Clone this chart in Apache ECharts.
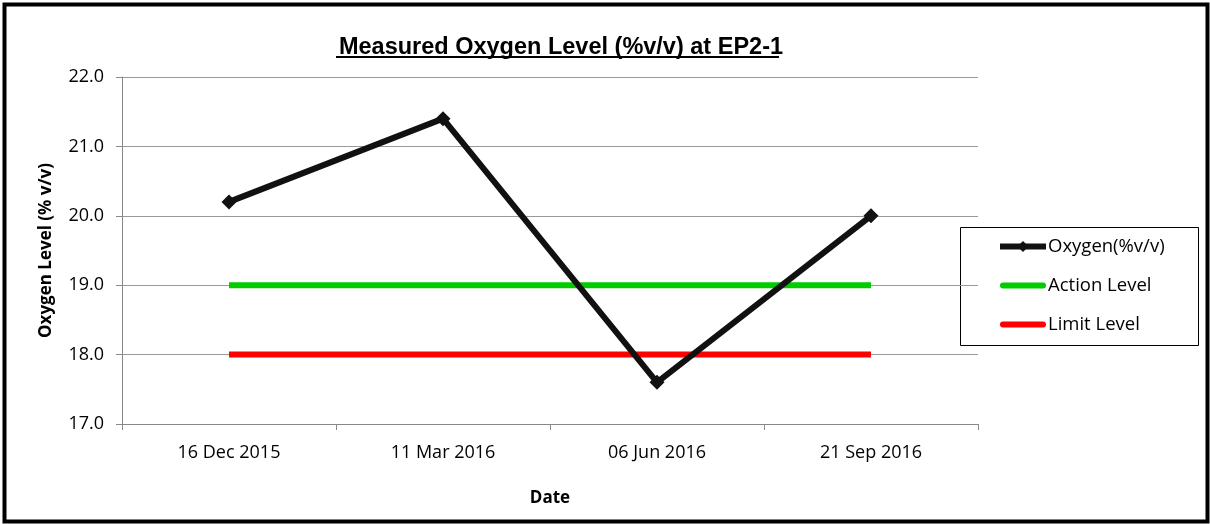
<!DOCTYPE html>
<html><head><meta charset="utf-8">
<script src="https://cdn.jsdelivr.net/npm/echarts@6/dist/echarts.min.js"></script>
<style>html,body{margin:0;padding:0;background:#fff}#c{width:1210px;height:524px}</style>
</head><body><div id="c"></div>
<script>
const categories = ['16 Dec 2015', '11 Mar 2016', '06 Jun 2016', '21 Sep 2016'];
const oxygen = [20.2, 21.4, 17.6, 20.0];
const actionLevel = [19, 19, 19, 19];
const limitLevel = [18, 18, 18, 18];
const seriesNames = ['Oxygen(%v/v)', 'Action Level', 'Limit Level'];
const yMin = 17, yMax = 22, yStep = 1;

const chart = echarts.init(document.getElementById('c'));
const font = 'Open Sans';
const barIcon = 'path://M3,0 L43,0 A3,3 0 0 1 43,6 L3,6 A3,3 0 0 1 3,0 Z';
chart.setOption({
  animation: false,
  backgroundColor: '#fff',
  title: {
    text: 'Measured Oxygen Level (%v/v) at EP2-1',
    left: 556, top: 31, textAlign: 'center',
    textStyle: {fontFamily: 'Liberation Sans', fontWeight: 'bold', fontSize: 23.5, color: '#000'}
  },
  grid: {left: 122, right: 232, top: 77, bottom: 100},
  legend: {
    orient: 'vertical', left: 992, top: 232,
    itemWidth: 46, itemHeight: 14, itemGap: 20,
    textStyle: {fontFamily: font, fontSize: 18.5, color: '#000', padding: [0, 0, 0, -3]},
    data: [
      {name: seriesNames[0], lineStyle: {width: 6}},
      {name: seriesNames[1], icon: barIcon},
      {name: seriesNames[2], icon: barIcon}
    ]
  },
  xAxis: {
    type: 'category', data: categories, boundaryGap: true,
    name: 'Date', nameLocation: 'middle', nameGap: 66,
    nameTextStyle: {fontFamily: font, fontWeight: 'bold', fontSize: 17, color: '#000'},
    axisLine: {lineStyle: {color: '#888'}},
    axisTick: {show: true, length: 6, lineStyle: {color: '#888'}},
    axisLabel: {fontFamily: font, fontSize: 18, color: '#000', margin: 20}
  },
  yAxis: {
    type: 'value', min: yMin, max: yMax, interval: yStep,
    name: 'Oxygen Level (% v/v)', nameLocation: 'middle', nameGap: 67,
    nameTextStyle: {fontFamily: font, fontWeight: 'bold', fontSize: 17, color: '#000'},
    axisLine: {show: true, lineStyle: {color: '#888'}},
    axisTick: {show: true, length: 6, lineStyle: {color: '#888'}},
    splitLine: {lineStyle: {color: '#999', width: 1}},
    axisLabel: {fontFamily: font, fontSize: 18, color: '#000', margin: 18, formatter: v => v.toFixed(1)}
  },
  series: [
    {name: seriesNames[0], type: 'line', data: oxygen, symbol: 'diamond', symbolSize: 15,
     lineStyle: {color: '#111', width: 6}, itemStyle: {color: '#111'}, z: 5},
    {name: seriesNames[1], type: 'line', data: actionLevel, symbol: 'none',
     lineStyle: {color: '#00cc00', width: 6}, itemStyle: {color: '#00cc00'}},
    {name: seriesNames[2], type: 'line', data: limitLevel, symbol: 'none',
     lineStyle: {color: '#ff0000', width: 6}, itemStyle: {color: '#ff0000'}}
  ],
  graphic: [
    {type: 'rect', left: 2, top: 2, shape: {width: 1203, height: 517},
     style: {fill: 'none', stroke: '#000', lineWidth: 4}, silent: true},
    {type: 'rect', left: 958, top: 225, shape: {width: 238, height: 118},
     style: {fill: 'none', stroke: '#000', lineWidth: 1}, silent: true, z: -1},
    {type: 'line', shape: {x1: 336, y1: 57, x2: 779, y2: 57},
     style: {stroke: '#000', lineWidth: 2}, silent: true}
  ]
});
</script></body></html>
